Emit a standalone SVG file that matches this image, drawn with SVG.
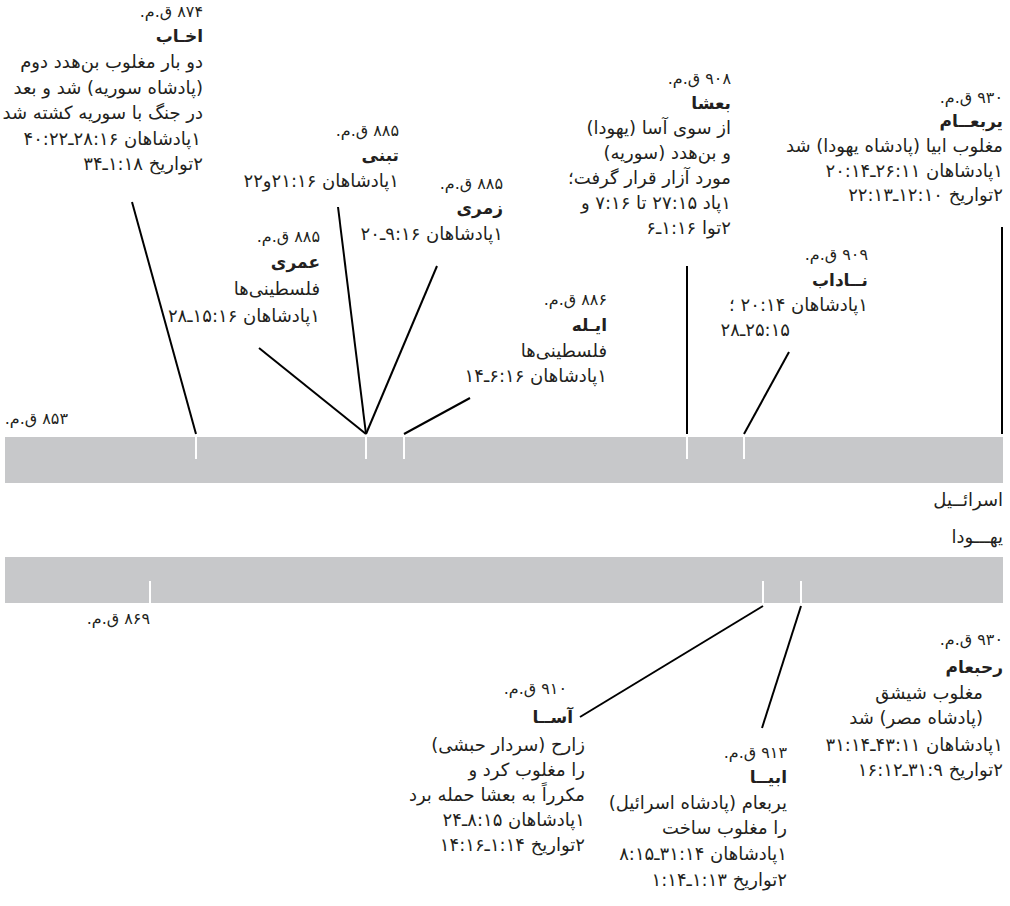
<svg xmlns="http://www.w3.org/2000/svg" width="1010" height="906" viewBox="0 0 1010 906">
<style>
  text { font-family: "DejaVu Sans", sans-serif; fill: #231f20; direction: rtl; text-anchor: start; }
  .t { font-size: 18px; }
  .d { font-size: 16px; }
  .b { font-size: 17px; font-weight: bold; }
  .bar { fill: #c7c8ca; }
  .tick { stroke: #ffffff; stroke-width: 2; }
  .conn line { stroke: #000000; stroke-width: 2; }
</style>
<rect width="1010" height="906" fill="#ffffff"/>

<g id="bars">
  <rect class="bar" x="5" y="437" width="998" height="46"/>
  <rect class="bar" x="5" y="557" width="998" height="46"/>
  <line class="tick" x1="196" y1="437" x2="196" y2="459"/>
  <line class="tick" x1="366" y1="437" x2="366" y2="459"/>
  <line class="tick" x1="404" y1="437" x2="404" y2="459"/>
  <line class="tick" x1="687" y1="437" x2="687" y2="459"/>
  <line class="tick" x1="744" y1="437" x2="744" y2="459"/>
  <line class="tick" x1="150" y1="581" x2="150" y2="603"/>
  <line class="tick" x1="763" y1="581" x2="763" y2="603"/>
  <line class="tick" x1="801" y1="581" x2="801" y2="603"/>
</g>

<g id="connectors" class="conn">
  <line x1="132" y1="202" x2="196" y2="434"/>
  <line x1="338" y1="207" x2="366" y2="434"/>
  <line x1="259" y1="348" x2="366" y2="434"/>
  <line x1="437" y1="266" x2="366" y2="434"/>
  <line x1="470" y1="398" x2="404" y2="434"/>
  <line x1="687" y1="266" x2="687" y2="434"/>
  <line x1="789" y1="352" x2="744" y2="434"/>
  <line x1="1002" y1="227" x2="1002" y2="434"/>
  <line x1="763" y1="606" x2="580" y2="717"/>
  <line x1="801" y1="606" x2="762" y2="728"/>
</g>

<g id="labels">
  <text class="d" x="68" y="424">۸۵۳ ق.م.</text>
  <text class="t" x="1003" y="506">اسرائــیل</text>
  <text class="t" x="1003" y="543">یهـــودا</text>
  <text class="d" x="150" y="624">۸۶۹ ق.م.</text>
</g>

<g id="node-akhab">
  <text class="d" x="203" y="17">۸۷۴ ق.م.</text>
  <text class="b" x="203" y="42">اخـاب</text>
  <text class="t" x="203" y="68">دو بار مغلوب بن‌هدد دوم</text>
  <text class="t" x="203" y="94">(پادشاه سوریه) شد و بعد</text>
  <text class="t" x="203" y="119">در جنگ با سوریه کشته شد</text>
  <text class="t" x="201" y="145">۱پادشاهان ۱۶&#x200F;:&#x200F;۲۸ـ۲۲&#x200F;:&#x200F;۴۰</text>
  <text class="t" x="203" y="170">۲تواریخ ۱۸&#x200F;:&#x200F;۱ـ۳۴</text>
</g>

<g id="node-tibni">
  <text class="d" x="399" y="136">۸۸۵ ق.م.</text>
  <text class="b" x="399" y="161">تبنی</text>
  <text class="t" x="399" y="187">۱پادشاهان ۱۶&#x200F;:&#x200F;۲۱و۲۲</text>
</g>

<g id="node-zimri">
  <text class="d" x="503" y="189">۸۸۵ ق.م.</text>
  <text class="b" x="503" y="214">زمری</text>
  <text class="t" x="503" y="240">۱پادشاهان ۱۶&#x200F;:&#x200F;۹ـ۲۰</text>
</g>

<g id="node-omri">
  <text class="d" x="320" y="242">۸۸۵ ق.م.</text>
  <text class="b" x="320" y="268">عمری</text>
  <text class="t" x="320" y="295">فلسطینی‌ها</text>
  <text class="t" x="320" y="322">۱پادشاهان ۱۶&#x200F;:&#x200F;۱۵ـ۲۸</text>
</g>

<g id="node-elah">
  <text class="d" x="607" y="305">۸۸۶ ق.م.</text>
  <text class="b" x="607" y="331">ایـله</text>
  <text class="t" x="607" y="357">فلسطینی‌ها</text>
  <text class="t" x="607" y="382">۱پادشاهان ۱۶&#x200F;:&#x200F;۶ـ۱۴</text>
</g>

<g id="node-baasha">
  <text class="d" x="731" y="84">۹۰۸ ق.م.</text>
  <text class="b" x="731" y="109">بعشا</text>
  <text class="t" x="731" y="134">از سوی آسا (یهودا)</text>
  <text class="t" x="731" y="159">و بن‌هدد (سوریه)</text>
  <text class="t" x="731" y="184">مورد آزار قرار گرفت؛</text>
  <text class="t" x="731" y="209">۱پاد ۱۵&#x200F;:&#x200F;۲۷ تا ۱۶&#x200F;:&#x200F;۷ و</text>
  <text class="t" x="731" y="234">۲توا ۱۶&#x200F;:&#x200F;۱ـ۶</text>
</g>

<g id="node-nadab">
  <text class="d" x="868" y="260">۹۰۹ ق.م.</text>
  <text class="b" x="868" y="286">نــاداب</text>
  <text class="t" x="868" y="311">۱پادشاهان ۱۴&#x200F;:&#x200F;۲۰ ؛</text>
  <text class="t" x="790" y="336">۱۵&#x200F;:&#x200F;۲۵ـ۲۸</text>
</g>

<g id="node-jeroboam">
  <text class="d" x="1003" y="103">۹۳۰ ق.م.</text>
  <text class="b" x="1003" y="127">یربعــام</text>
  <text class="t" x="1003" y="152">مغلوب ابیا (پادشاه یهودا) شد</text>
  <text class="t" x="1003" y="177">۱پادشاهان ۱۱&#x200F;:&#x200F;۲۶ـ۱۴&#x200F;:&#x200F;۲۰</text>
  <text class="t" x="1003" y="201">۲تواریخ ۱۰&#x200F;:&#x200F;۱۲ـ۱۳&#x200F;:&#x200F;۲۲</text>
</g>

<g id="node-rehoboam">
  <text class="d" x="1003" y="645">۹۳۰ ق.م.</text>
  <text class="b" x="1003" y="673">رحبعام</text>
  <text class="t" x="983" y="699">مغلوب شیشق</text>
  <text class="t" x="983" y="724">(پادشاه مصر) شد</text>
  <text class="t" x="1003" y="751">۱پادشاهان ۱۱&#x200F;:&#x200F;۴۳ـ۱۴&#x200F;:&#x200F;۳۱</text>
  <text class="t" x="1003" y="776">۲تواریخ ۹&#x200F;:&#x200F;۳۱ـ۱۲&#x200F;:&#x200F;۱۶</text>
</g>

<g id="node-asa">
  <text class="d" x="567" y="694">۹۱۰ ق.م.</text>
  <text class="b" x="573" y="723">آســا</text>
  <text class="t" x="585" y="751">زارح (سردار حبشی)</text>
  <text class="t" x="585" y="776">را مغلوب کرد و</text>
  <text class="t" x="585" y="801">مکرراً به بعشا حمله برد</text>
  <text class="t" x="585" y="826">۱پادشاهان ۱۵&#x200F;:&#x200F;۸ـ۲۴</text>
  <text class="t" x="585" y="851">۲تواریخ ۱۴&#x200F;:&#x200F;۱ـ۱۶&#x200F;:&#x200F;۱۴</text>
</g>

<g id="node-abijah">
  <text class="d" x="787" y="758">۹۱۳ ق.م.</text>
  <text class="b" x="787" y="783">ابیــا</text>
  <text class="t" x="787" y="809">یربعام (پادشاه اسرائیل)</text>
  <text class="t" x="787" y="834">را مغلوب ساخت</text>
  <text class="t" x="787" y="860">۱پادشاهان ۱۴&#x200F;:&#x200F;۳۱ـ۱۵&#x200F;:&#x200F;۸</text>
  <text class="t" x="787" y="886">۲تواریخ ۱۳&#x200F;:&#x200F;۱ـ۱۴&#x200F;:&#x200F;۱</text>
</g>
</svg>
